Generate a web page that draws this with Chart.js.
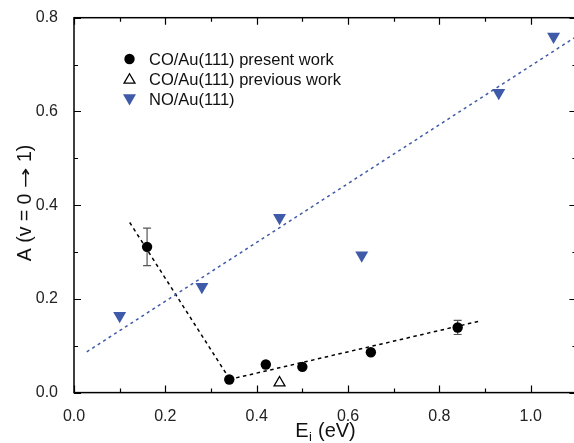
<!DOCTYPE html>
<html>
<head>
<meta charset="utf-8">
<script src="https://cdn.jsdelivr.net/npm/chart.js@4.4.0/dist/chart.umd.min.js"></script>
<style>
  html, body { margin: 0; padding: 0; background: #fff; overflow: hidden; }
  #wrap { width: 584px; height: 443px; }
</style>
</head>
<body>
<div id="wrap"><canvas id="c" width="584" height="443"></canvas></div>
<script>
// ---- data ----
const coPresentX = [0.16, 0.34, 0.42, 0.50, 0.65, 0.84];
const coPresentY = [0.311, 0.028, 0.060, 0.055, 0.086, 0.139];
const coPresentErr = [0.040, 0, 0, 0, 0, 0.015];

const coPreviousX = [0.45];
const coPreviousY = [0.021];

const noX = [0.10, 0.28, 0.45, 0.63, 0.93, 1.05];
const noY = [0.164, 0.226, 0.373, 0.293, 0.640, 0.760];

const noFitX = [0.028, 1.10];
const noFitY = [0.087, 0.760];
const coFit1X = [0.122, 0.34];
const coFit1Y = [0.363, 0.030];
const coFit2X = [0.34, 0.89];
const coFit2Y = [0.028, 0.153];

const xTicks = [0.0, 0.2, 0.4, 0.6, 0.8, 1.0];
const yTicks = [0.0, 0.2, 0.4, 0.6, 0.8];

const legendLabels = ['CO/Au(111) present work', 'CO/Au(111) previous work', 'NO/Au(111)'];

const BLUE = '#3f5aa8';
const FONT = "'Liberation Sans', Arial, sans-serif";

const pts = (xs, ys) => xs.map((x, i) => ({ x: x, y: ys[i] }));

const framePlugin = {
  id: 'frame',
  beforeDatasetsDraw(chart) {
    const { ctx, chartArea: a, scales: { x, y } } = chart;
    ctx.save();
    ctx.strokeStyle = '#000';
    ctx.lineWidth = 1.5;
    ctx.strokeRect(a.left, a.top, a.right - a.left, a.bottom - a.top);
    ctx.lineWidth = 1.2;
    ctx.beginPath();
    for (let i = 0; i <= 11; i++) {
      const v = i / 10;
      const px = Math.round(x.getPixelForValue(v)) + 0.5;
      const len = i % 2 === 0 ? 7 : 4;
      ctx.moveTo(px, a.bottom); ctx.lineTo(px, a.bottom - len);
      ctx.moveTo(px, a.top); ctx.lineTo(px, a.top + len);
    }
    for (let i = 0; i <= 8; i++) {
      const v = i / 10;
      const py = Math.round(y.getPixelForValue(v)) + 0.5;
      const len = i % 2 === 0 ? 7 : 4;
      ctx.moveTo(a.left, py); ctx.lineTo(a.left + len, py);
      ctx.moveTo(a.right, py); ctx.lineTo(a.right - len, py);
    }
    ctx.stroke();

    // error bars
    ctx.strokeStyle = '#555';
    ctx.lineWidth = 1.2;
    ctx.beginPath();
    coPresentX.forEach((xv, i) => {
      const e = coPresentErr[i];
      if (!e) return;
      const px = x.getPixelForValue(xv);
      const p1 = y.getPixelForValue(coPresentY[i] + e);
      const p2 = y.getPixelForValue(coPresentY[i] - e);
      ctx.moveTo(px, p1); ctx.lineTo(px, p2);
      ctx.moveTo(px - 4, p1); ctx.lineTo(px + 4, p1);
      ctx.moveTo(px - 4, p2); ctx.lineTo(px + 4, p2);
    });
    ctx.stroke();
    ctx.restore();
  },
  afterDraw(chart) {
    const { ctx } = chart;
    ctx.save();
    ctx.fillStyle = '#111';
    // x title with subscript
    ctx.textBaseline = 'alphabetic';
    ctx.textAlign = 'left';
    const mainE = 'E', rest = ' (eV)';
    ctx.font = '20px ' + FONT;
    const wE = ctx.measureText(mainE).width;
    const wR = ctx.measureText(rest).width;
    ctx.font = '13px ' + FONT;
    const wI = ctx.measureText('i').width;
    const total = wE + wI + wR;
    const sx = 325 - total / 2;
    const base = 437;
    ctx.font = '20px ' + FONT;
    ctx.fillText(mainE, sx, base);
    ctx.font = '13px ' + FONT;
    ctx.fillText('i', sx + wE + 0.5, base + 4);
    ctx.font = '20px ' + FONT;
    ctx.fillText(rest, sx + wE + wI + 1, base);

    // y title: "A (v = 0 → 1)"
    ctx.save();
    ctx.translate(31, 203);
    ctx.rotate(-Math.PI / 2);
    ctx.textBaseline = 'alphabetic';
    ctx.textAlign = 'left';
    const p1 = 'A (v = 0 ', arrow = '\u2192', p3 = ' 1)';
    const yf = '19.5px ' + FONT;
    const af = "17px 'DejaVu Sans', sans-serif";
    const arrowScale = 1.45;
    ctx.font = yf;
    const w1 = ctx.measureText(p1).width;
    const w3 = ctx.measureText(p3).width;
    ctx.font = af;
    const w2 = ctx.measureText(arrow).width * arrowScale;
    let cx = -(w1 + w2 + w3) / 2;
    ctx.font = yf;
    ctx.fillText(p1, cx, 0);
    cx += w1;
    ctx.save();
    ctx.translate(cx, -0.5);
    ctx.scale(arrowScale, 1);
    ctx.font = af;
    ctx.fillText(arrow, 0, 0);
    ctx.restore();
    cx += w2;
    ctx.font = yf;
    ctx.fillText(p3, cx, 0);
    ctx.restore();

    // legend
    const lx = 129.5, tx = 149;
    const rows = [59, 79, 99];
    ctx.font = '16.5px ' + FONT;
    ctx.textBaseline = 'middle';
    ctx.textAlign = 'left';
    ctx.fillStyle = '#000';
    ctx.beginPath(); ctx.arc(lx, rows[0], 5.2, 0, Math.PI * 2); ctx.fill();
    ctx.strokeStyle = '#000'; ctx.lineWidth = 1.3;
    ctx.beginPath();
    const r1 = 6.3;
    ctx.moveTo(lx, rows[1] + 1 - r1);
    ctx.lineTo(lx + r1 * 0.866, rows[1] + 1 + r1 / 2);
    ctx.lineTo(lx - r1 * 0.866, rows[1] + 1 + r1 / 2);
    ctx.closePath(); ctx.stroke();
    ctx.fillStyle = BLUE;
    const r2 = 7.5;
    ctx.beginPath();
    ctx.moveTo(lx, rows[2] - 1 + r2);
    ctx.lineTo(lx + r2 * 0.866, rows[2] - 1 - r2 / 2);
    ctx.lineTo(lx - r2 * 0.866, rows[2] - 1 - r2 / 2);
    ctx.closePath(); ctx.fill();
    ctx.fillStyle = '#111';
    legendLabels.forEach((t, i) => ctx.fillText(t, tx, rows[i] + 1));
    ctx.restore();
  }
};

new Chart(document.getElementById('c'), {
  type: 'scatter',
  data: {
    datasets: [
      { type: 'line', data: pts(noFitX, noFitY), borderColor: BLUE, borderWidth: 1.5,
        borderDash: [3, 3.5], pointRadius: 0, fill: false, order: 5 },
      { type: 'line', data: pts(coFit1X, coFit1Y), borderColor: '#000', borderWidth: 1.5,
        borderDash: [3.5, 3.5], pointRadius: 0, fill: false, order: 5 },
      { type: 'line', data: pts(coFit2X, coFit2Y), borderColor: '#000', borderWidth: 1.5,
        borderDash: [3.5, 3.5], pointRadius: 0, fill: false, order: 5 },
      { label: legendLabels[2], data: pts(noX, noY), pointStyle: 'triangle', rotation: 180,
        pointRadius: 7.5, backgroundColor: BLUE, borderColor: BLUE, borderWidth: 0, order: 2 },
      { label: legendLabels[1], data: pts(coPreviousX, coPreviousY), pointStyle: 'triangle',
        pointRadius: 6.3, backgroundColor: '#fff', borderColor: '#000', borderWidth: 1.3, order: 1 },
      { label: legendLabels[0], data: pts(coPresentX, coPresentY), pointStyle: 'circle',
        pointRadius: 5.2, backgroundColor: '#000', borderColor: '#000', borderWidth: 0, order: 0 }
    ]
  },
  options: {
    responsive: false,
    animation: false,
    events: [],
    layout: { padding: { top: 17.7, right: 2, left: 0, bottom: 0 } },
    plugins: { legend: { display: false }, tooltip: { enabled: false }, title: { display: false } },
    scales: {
      x: {
        type: 'linear', min: 0, max: 1.1,
        grid: { display: false },
        border: { display: false },
        ticks: {
          stepSize: 0.1, padding: 6, color: '#222', font: { size: 16, family: FONT },
          maxRotation: 0, autoSkip: false,
          callback: (v) => xTicks.some(t => Math.abs(t - v) < 1e-6) ? v.toFixed(1) : ''
        },
        afterFit: (s) => { s.height = 50.4; }
      },
      y: {
        type: 'linear', min: 0, max: 0.8,
        grid: { display: false },
        border: { display: false },
        ticks: {
          stepSize: 0.1, padding: 8, color: '#222', font: { size: 16, family: FONT },
          autoSkip: false,
          callback: (v) => yTicks.some(t => Math.abs(t - v) < 1e-6) ? v.toFixed(1) : ''
        },
        afterFit: (s) => { s.width = 74; }
      }
    }
  },
  plugins: [framePlugin]
});
</script>
</body>
</html>
